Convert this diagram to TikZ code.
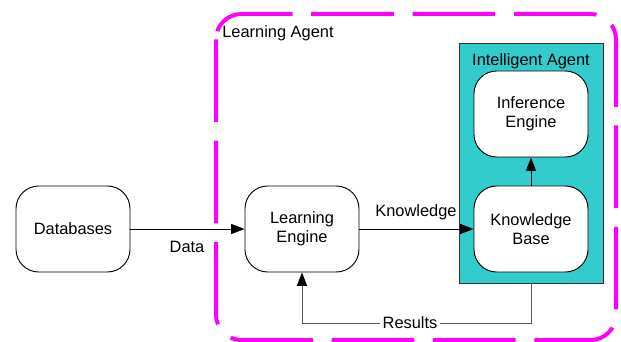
\documentclass[tikz,border=0pt]{standalone}
\usepackage{fontspec}
\setmainfont{Liberation Sans}
\usepackage{tikz}
\usetikzlibrary{arrows.meta}
\definecolor{agentcyan}{RGB}{51,204,204}
\definecolor{boundmag}{RGB}{255,0,255}
\tikzset{
  boxtext/.style = {align=center, inner sep=0pt, text centered, font=\fontsize{12.3}{14.5}\selectfont},
  enode/.style = {boxtext, rectangle, rounded corners=17pt, draw=black, fill=white, line width=0.7pt, minimum width=85.5pt, minimum height=64.5pt},
  agentbox/.style = {rectangle, draw=black!80, fill=agentcyan, line width=0.7pt, minimum width=108pt, minimum height=180pt},
  flow/.style = {line width=0.7pt, -{Triangle[length=10pt,width=7.5pt,fill=black,color=black]}},
  bound/.style = {draw=boundmag, line width=3pt, rounded corners=19pt, dash pattern=on 62pt off 14pt},
}

\begin{document}
\begin{tikzpicture}[x=0.75pt,y=-0.75pt]
\useasboundingbox (0,0) rectangle (621,342);
\draw [bound] (216,14) rectangle (616,340);
\node [boxtext] (LA) at (278,33) {Learning Agent};
\node [agentbox] (IA) at (531,163) {};
\node [boxtext] (IAlabel) at (531,61) {Intelligent Agent};
\node [enode] (DB) at (73,229) {Databases};
\node [enode] (LE) at (302,229) {Learning\\Engine};
\node [enode] (IE) at (531,114) {Inference\\Engine};
\node [enode] (KB) at (531,229) {Knowledge\\Base};
\node [boxtext] (data) at (187,247) {Data};
\node [boxtext] (know) at (416,212) {Knowledge};
\node [boxtext, fill=white, inner sep=2pt] (res) at (410,323) {Results};
\draw [flow] (DB) -- (LE);
\draw [flow] (LE) -- (KB);
\draw [flow] (KB) -- (IE);
\draw [line width=0.7pt, draw=black!65] (IA.south) |- (res.east);
\draw [flow, draw=black!65] (res.west) -| (LE.south);
\end{tikzpicture}
\end{document}
